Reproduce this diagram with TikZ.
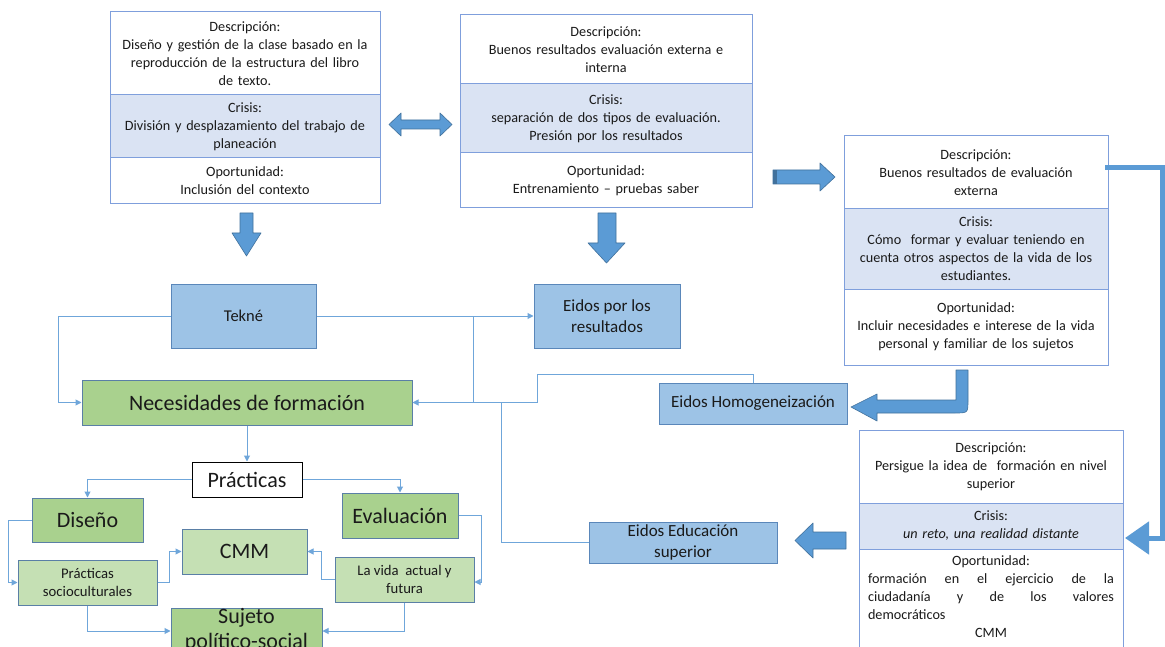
\documentclass[tikz,border=0pt]{standalone}
\usepackage{fontspec}
\setmainfont{Carlito}
\usetikzlibrary{arrows.meta}
\definecolor{bordA}{HTML}{7F9FDC}
\definecolor{crisisfill}{HTML}{DAE3F3}
\definecolor{bluefill}{HTML}{9DC3E6}
\definecolor{blueedge}{HTML}{5A87BA}
\definecolor{greenA}{HTML}{A9D18E}
\definecolor{greenB}{HTML}{C5E0B4}
\definecolor{greenedge}{HTML}{5A7FA6}
\definecolor{arrowblue}{HTML}{5B9BD5}
\definecolor{arrowedge}{HTML}{41719C}
\definecolor{connblue}{HTML}{6FA6DA}
\definecolor{txt}{HTML}{1A1A1A}
\newcommand\fsz[2]{\fontsize{#1}{#2}\selectfont}
\begin{document}
\begin{tikzpicture}[x=1pt,y=-1pt,
  every node/.style={text=txt},
  sec/.style={draw=bordA, line width=1pt, align=center, inner sep=1pt, font=\fsz{14.2}{18}},
  crs/.style={sec, fill=crisisfill},
  bnode/.style={draw=blueedge, fill=bluefill, line width=1pt, align=center, inner sep=1pt},
  gnode/.style={draw=greenedge, fill=greenA, line width=1pt, align=center, inner sep=1pt, font=\fsz{22}{25}},
  lgnode/.style={draw=greenedge, fill=greenB, line width=1pt, align=center, inner sep=1pt, font=\fsz{14.7}{18}},
  conn/.style={draw=connblue, line width=1pt, -{Triangle[length=6pt,width=6pt]}},
  line/.style={draw=connblue, line width=1pt},
  blockarrow/.style={fill=arrowblue, draw=arrowedge, line width=0.6pt, line join=round}
]
\useasboundingbox (0,0) rectangle (1165,647);
\clip (0,0) rectangle (1165,647);
\fill[white] (0,0) rectangle (1165,647);

% ---------- top-left box
\node[sec, minimum width=270, minimum height=83, text width=264pt] (tl1) at (245,53.5)
  {Descripción:\\Diseño y gestión de la clase basado en la\\reproducción de la estructura del libro\\de texto.};
\node[crs, minimum width=270, minimum height=63, text width=264pt] (tl2) at (245,126.5)
  {Crisis:\\División y desplazamiento del trabajo de\\planeación};
\node[sec, minimum width=270, minimum height=46, text width=264pt] (tl3) at (245,181)
  {Oportunidad:\\Inclusión del contexto};

% ---------- top-middle box
\node[sec, minimum width=292, minimum height=69, text width=286pt] (tm1) at (606,49.5)
  {Descripción:\\Buenos resultados evaluación externa e\\interna};
\node[crs, minimum width=292, minimum height=69, text width=286pt] (tm2) at (606,118.5)
  {Crisis:\\separación de dos tipos de evaluación.\\Presión por los resultados};
\node[sec, minimum width=292, minimum height=55, text width=286pt] (tm3) at (606,180.5)
  {Oportunidad:\\Entrenamiento – pruebas saber};

% ---------- right box 1
\node[sec, minimum width=264, minimum height=73, text width=258pt] (rd1) at (976,172.5)
  {Descripción:\\Buenos resultados de evaluación\\externa};
\node[crs, minimum width=264, minimum height=80, text width=258pt] (rd2) at (976,249)
  {Crisis:\\Cómo\ \ formar y evaluar teniendo en\\cuenta otros aspectos de la vida de los\\estudiantes.};
\node[sec, minimum width=264, minimum height=76, text width=258pt] (rd3) at (976,327)
  {Oportunidad:\\Incluir necesidades e interese de la vida\\personal y familiar de los sujetos};

% ---------- bottom-right box
\node[sec, minimum width=264, minimum height=73, text width=258pt] (br1) at (991,466.5)
  {Descripción:\\Persigue la idea de\ \ formación en nivel\\superior};
\node[crs, minimum width=264, minimum height=46, text width=258pt] (br2) at (991,526)
  {Crisis:\\\textit{un reto, una realidad distante}};
\node[sec, minimum width=264, minimum height=111, text width=258pt, anchor=north] (br3) at (991,549) {};
\node[align=center, font=\fsz{14.2}{18}, inner sep=0pt, anchor=north] (br3t) at (991,555)
  {Oportunidad:\\\makebox[246pt][s]{formación en el ejercicio de la}\\
   \makebox[246pt][s]{ciudadanía y de los valores}\\
   \makebox[246pt][l]{democráticos}\\CMM};

% ---------- blue nodes
\node[bnode, minimum width=145, minimum height=64, font=\fsz{16.5}{20}] (tekne) at (243.5,316) {Tekné};
\node[bnode, minimum width=146, minimum height=64, font=\fsz{17}{21}] (eidospor) at (607,316) {Eidos por los\\resultados};
\node[bnode, minimum width=188, minimum height=41, font=\fsz{17}{20}] (homog) at (753,403.5) {Eidos Homogeneización};
\node[bnode, minimum width=188, minimum height=41, font=\fsz{17}{20.5}] (edu) at (683,542.5) {Eidos Educación\\superior};

% ---------- green nodes
\node[gnode, minimum width=330, minimum height=45] (nec) at (247,402.5) {Necesidades de formación};
\node[draw=black, fill=white, line width=1pt, minimum width=110, minimum height=35, inner sep=1pt, font=\fsz{22}{25}] (pract) at (247,479.5) {Prácticas};
\node[gnode, minimum width=111, minimum height=44] (diseno) at (87.5,520) {Diseño};
\node[gnode, minimum width=116, minimum height=45] (eval) at (400,515.5) {Evaluación};
\node[gnode, fill=greenB, minimum width=125, minimum height=45] (cmm) at (244.5,551.5) {CMM};
\node[lgnode, minimum width=139, minimum height=45] (socio) at (87.5,582.5) {Prácticas\\socioculturales};
\node[lgnode, minimum width=139, minimum height=45] (vida) at (404.5,579.5) {La vida\ \ actual y\\futura};
\node[gnode, minimum width=151, minimum height=44, inner ysep=0pt, font=\fsz{22}{25}] (sujeto) at (246.5,630) {Sujeto\\político-social};

% ---------- thin connectors
\coordinate (jT) at (473,316);
\coordinate (jN) at (473,402.5);
\coordinate (jE) at (501,402.5);
\coordinate (jH) at (537,374);
\draw[conn] (tekne.west) -- ++(-112,0) |- (nec.west);
\draw[conn] (tekne.east) -- (eidospor.west);
\draw[line] (jT) -- (jN);
\draw[conn] (homog.north) |- (jH) |- (nec.east);
\draw[line] (edu.west) -| (jE);
\draw[conn] (nec.south) -- (pract.north);
\draw[conn] (pract.west) -| (diseno.north);
\draw[conn] (pract.east) -| (eval.north);
\draw[conn] (diseno.west) -- ++(-23,0) |- (socio.west);
\draw[conn] (socio.east) -- ++(12,0) |- (cmm.west);
\draw[conn] (vida.west) -- ++(-13,0) |- (cmm.east);
\draw[conn] (eval.east) -- ++(23,0) |- ([yshift=-2.5pt]vida.east);
\draw[conn] (socio.south) |- ([yshift=-1pt]sujeto.west);
\draw[conn] (vida.south) |- ([yshift=-1pt]sujeto.east);

% ---------- thick connector (right)
\coordinate (tA) at (1105,168);
\coordinate (tC) at (1162,538);
\coordinate (tB) at (1125,538);
\draw[draw=arrowblue, line width=5pt, -{Triangle[length=24pt,width=32pt]}] (tA) -| (tC) -- (tB);

% ---------- block arrows
% double arrow
\path[blockarrow] (389,124.5) -- (401,113) -- (401,120) -- (440,120) -- (440,113) -- (452,124.5)
  -- (440,136) -- (440,129) -- (401,129) -- (401,136) -- cycle;
% down arrow left
\path[blockarrow] (240,213) -- (253,213) -- (253,233) -- (261,233) -- (246.5,256) -- (232,233) -- (240,233) -- cycle;
% down arrow middle
\path[blockarrow] (598,213) -- (616,213) -- (616,243) -- (625,243) -- (606.5,263) -- (588,243) -- (598,243) -- cycle;
% right arrow
\path[blockarrow] (773,170) -- (820,170) -- (820,163) -- (835,177) -- (820,191) -- (820,184) -- (773,184) -- cycle;
\fill[arrowedge] (773,170) rectangle (777,184);
% left arrow to Eidos Educación
\path[blockarrow] (846,532) -- (813,532) -- (813,523) -- (795,540.5) -- (813,558) -- (813,549) -- (846,549) -- cycle;
% bent arrow to Eidos Homogeneización
\path[blockarrow] (956,370) -- (968,370) -- (968,400) .. controls (968,413) .. (955,413) -- (877,413) -- (877,421)
  -- (851,407) -- (877,394) -- (877,400) -- (956,400) -- cycle;
\end{tikzpicture}
\end{document}
